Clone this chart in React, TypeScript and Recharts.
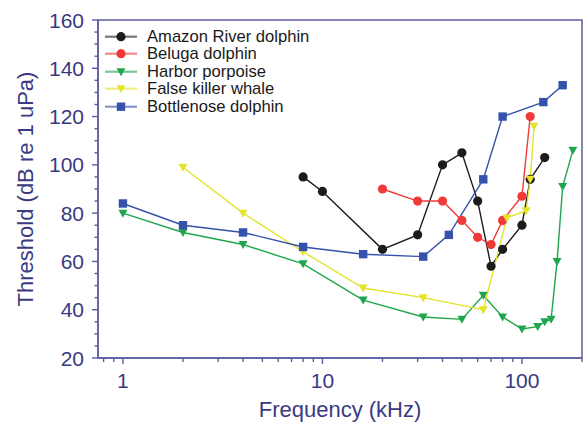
import React from 'react';
import { LineChart, Line, XAxis, YAxis, ReferenceArea } from 'recharts';

const amazonFreq = [8, 10, 20, 30, 40, 50, 60, 70, 80, 100, 110, 130];
const amazonThr = [95, 89, 65, 71, 100, 105, 85, 58, 65, 75, 94, 103];
const belugaFreq = [20, 30, 40, 50, 60, 70, 80, 100, 110];
const belugaThr = [90, 85, 85, 77, 70, 67, 77, 87, 120];
const harborFreq = [1, 2, 4, 8, 16, 32, 50, 64, 80, 100, 120, 130, 140, 150, 160, 180];
const harborThr = [80, 72, 67, 59, 44, 37, 36, 46, 37, 32, 33, 35, 36, 60, 91, 106];
const killerFreq = [2, 4, 8, 16, 32, 64, 84, 105, 110, 115];
const killerThr = [99, 80, 64, 49, 45, 40, 78, 81, 94, 116];
const bottleFreq = [1, 2, 4, 8, 16, 32, 43, 64, 80, 128, 160];
const bottleThr = [84, 75, 72, 66, 63, 62, 71, 94, 120, 126, 133];

const xTicks = [0.8, 0.9, 1, 2, 3, 4, 5, 6, 7, 8, 9, 10, 20, 30, 40, 50, 60, 70, 80, 90, 100, 200];
const xMajor = [1, 10, 100];
const yTicks = [20, 25, 30, 35, 40, 45, 50, 55, 60, 65, 70, 75, 80, 85, 90, 95, 100, 105, 110, 115, 120, 125, 130, 135, 140, 145, 150, 155, 160];
const yMajor = [20, 40, 60, 80, 100, 120, 140, 160];

const zip = (f: number[], v: number[]) => f.map((x, i) => ({ f: x, v: v[i] }));

const series = [
  { name: 'Amazon River dolphin', data: zip(amazonFreq, amazonThr), color: '#1c1c1c', shape: 'circle' },
  { name: 'Beluga dolphin', data: zip(belugaFreq, belugaThr), color: '#f03a3a', shape: 'circle' },
  { name: 'Harbor porpoise', data: zip(harborFreq, harborThr), color: '#1fa64c', shape: 'tri' },
  { name: 'False killer whale', data: zip(killerFreq, killerThr), color: '#e4e42a', shape: 'tri' },
  { name: 'Bottlenose dolphin', data: zip(bottleFreq, bottleThr), color: '#3452ac', shape: 'square' },
];

const FONT = '"Liberation Sans", Arial, Helvetica, sans-serif';
const AXIS_TEXT = '#3a3a82';
const AXIS_LINE = '#5c5c9e';
const ROW = 17.4;

function Marker({ cx, cy, shape, color }: any) {
  if (cx == null || cy == null) return <g />;
  if (shape === 'circle') return <circle cx={cx} cy={cy} r={4.6} fill={color} stroke="none" />;
  if (shape === 'square') return <rect x={cx - 4.2} y={cy - 4.2} width={8.4} height={8.4} fill={color} stroke="none" />;
  return <polygon points={`${cx - 4.5},${cy - 3.5} ${cx + 4.5},${cy - 3.5} ${cx},${cy + 4.5}`} fill={color} stroke="none" />;
}

const XTick = ({ x, y, payload }: any) => {
  const major = xMajor.includes(payload.value);
  return (
    <g>
      <line x1={x} x2={x} y1={y} y2={y + (major ? 6 : 4)} stroke={AXIS_LINE} strokeWidth={1.4} />
      {major && (
        <text x={x} y={y + 30} textAnchor="middle" fontSize={21} fontFamily={FONT} fill={AXIS_TEXT}>
          {payload.value}
        </text>
      )}
    </g>
  );
};

const YTick = ({ x, y, payload }: any) => {
  const major = yMajor.includes(payload.value);
  return (
    <g>
      <line x1={x} x2={x - (major ? 6 : 3.5)} y1={y} y2={y} stroke={AXIS_LINE} strokeWidth={1.4} />
      {major && (
        <text x={x - 14} y={y + 7.5} textAnchor="end" fontSize={21} fontFamily={FONT} fill={AXIS_TEXT}>
          {payload.value}
        </text>
      )}
    </g>
  );
};

const LegendBox = () => (
  <div style={{ position: 'absolute', left: 105, top: 28, fontFamily: FONT, fontSize: 16.6, color: '#1a1a1a' }}>
    {series.map((s) => (
      <div key={s.name} style={{ display: 'flex', alignItems: 'center', height: ROW, whiteSpace: 'nowrap' }}>
        <svg width={42} height={ROW} style={{ display: 'block' }}>
          <line x1={0} x2={32} y1={ROW / 2} y2={ROW / 2} stroke={s.color} strokeWidth={2.2} opacity={0.6} />
          <Marker cx={16} cy={ROW / 2} shape={s.shape} color={s.color} />
        </svg>
        <span style={{ lineHeight: `${ROW}px` }}>{s.name}</span>
      </div>
    ))}
  </div>
);

export default function App() {
  return (
    <div style={{ position: 'absolute', left: 0, top: 0, width: 585, height: 422, background: '#fff' }}>
      <LineChart width={585} height={422} margin={{ top: 20, right: 3, bottom: 0, left: 0 }}>
        <XAxis
          dataKey="f"
          type="number"
          scale="log"
          domain={[0.75, 200]}
          ticks={xTicks}
          interval={0}
          allowDataOverflow
          tick={<XTick />}
          tickLine={false}
          tickSize={0}
          tickMargin={0}
          height={64}
          axisLine={{ stroke: AXIS_LINE, strokeWidth: 1.5 }}
          label={{
            content: ({ viewBox }: any) => (
              <text
                x={viewBox.x + viewBox.width / 2}
                y={viewBox.y + 59}
                textAnchor="middle"
                fontSize={22}
                fontFamily={FONT}
                fill={AXIS_TEXT}
              >
                Frequency (kHz)
              </text>
            ),
          }}
        />
        <YAxis
          type="number"
          domain={[20, 160]}
          ticks={yTicks}
          interval={0}
          width={98}
          tick={<YTick />}
          tickLine={false}
          tickSize={0}
          tickMargin={0}
          axisLine={{ stroke: AXIS_LINE, strokeWidth: 1.5 }}
          label={{
            content: ({ viewBox }: any) => {
              const cy = viewBox.y + viewBox.height / 2;
              return (
                <text
                  x={25}
                  y={cy}
                  transform={`rotate(-90 25 ${cy})`}
                  textAnchor="middle"
                  dominantBaseline="central"
                  fontSize={22}
                  fontFamily={FONT}
                  fill={AXIS_TEXT}
                >
                  Threshold (dB re 1 uPa)
                </text>
              );
            },
          }}
        />
        <ReferenceArea x1={0.75} x2={200} y1={20} y2={160} fill="none" stroke={AXIS_LINE} strokeWidth={1.5} />
        {series.map((s) => (
          <Line
            key={s.name}
            data={s.data}
            dataKey="v"
            name={s.name}
            stroke={s.color}
            strokeWidth={1.4}
            isAnimationActive={false}
            dot={(p: any) => <Marker key={`${s.name}-${p.index}`} cx={p.cx} cy={p.cy} shape={s.shape} color={s.color} />}
            activeDot={false}
          />
        ))}
      </LineChart>
      <LegendBox />
    </div>
  );
}
